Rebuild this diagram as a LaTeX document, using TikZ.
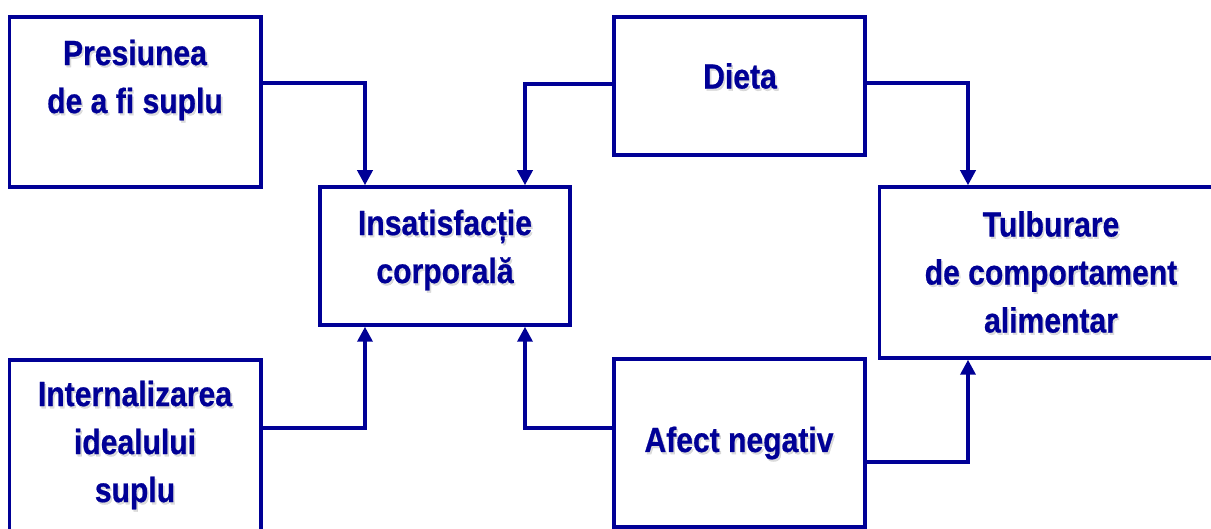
\documentclass[tikz,border=0pt]{standalone}
\usepackage{fontspec}
\setmainfont{Liberation Sans}
\newfontfamily\boxfont{Liberation Sans}[FakeStretch=0.86,FakeBold=0.6]
\usetikzlibrary{arrows.meta,calc}
\definecolor{navy}{RGB}{0,0,150}
\tikzset{
  x=1pt, y=-1pt,
  frame/.style={draw=navy, line width=3.5pt, minimum width=#1, inner sep=0pt},
  link/.style={draw=navy, line width=3.5pt, -{Triangle[width=15pt,length=15pt]}},
  txt/.style={font=\boxfont\bfseries\fontsize{35}{48}\selectfont, text=navy, align=center, inner sep=0pt},
  shade/.style={font=\boxfont\bfseries\fontsize{35}{48}\selectfont, text=black!30, opacity=0.45, align=center, inner sep=0pt}
}
% label with a soft drop shadow behind it
\newcommand\boxtext[3]{%
  \node[shade] at ($(#2)+(1.6,2.2)$) {#3};
  \node[txt] (#1) at (#2) {#3};}
\begin{document}
\begin{tikzpicture}
  \useasboundingbox (0,0) rectangle (1211,529);
  \clip (0,0) rectangle (1211,529);

  % boxes
  \node[frame=251.5pt, minimum height=170pt] (pres) at (135.25,102) {};
  \node[frame=251.5pt, minimum height=210pt] (intern) at (135.25,465) {};
  \node[frame=250pt, minimum height=138pt] (insat) at (445,256) {};
  \node[frame=251pt, minimum height=138pt] (dieta) at (739.5,86) {};
  \node[frame=251pt, minimum height=168pt] (afect) at (739.5,443) {};
  \node[frame=345pt, minimum height=171pt] (tulb) at (1052,272.5) {};

  % labels
  \boxtext{tpres}{135,80}{Presiunea\\de a fi suplu}
  \boxtext{tintern}{135,445}{Internalizarea\\idealului\\suplu}
  \boxtext{tinsat}{445,250}{Insatisfacție\\corporală}
  \boxtext{tdieta}{740,76}{Dieta}
  \boxtext{tafect}{739,443}{Afect negativ}
  \boxtext{ttulb}{1051,272}{Tulburare\\de comportament\\alimentar}

  % bend points of the connectors
  \coordinate (k1) at (365,83);
  \coordinate (k2) at (365,428);
  \coordinate (k3) at (525,84);
  \coordinate (k4) at (525,428);
  \coordinate (k5) at (968,83);
  \coordinate (k6) at (968,462);

  % connectors
  \draw[link] (pres.east |- k1) -| (insat.north -| k1);
  \draw[link] (intern.east |- k2) -| (insat.south -| k2);
  \draw[link] (dieta.west |- k3) -| (insat.north -| k3);
  \draw[link] (afect.west |- k4) -| (insat.south -| k4);
  \draw[link] (dieta.east |- k5) -| (tulb.north -| k5);
  \draw[link] (afect.east |- k6) -| (tulb.south -| k6);
\end{tikzpicture}
\end{document}
